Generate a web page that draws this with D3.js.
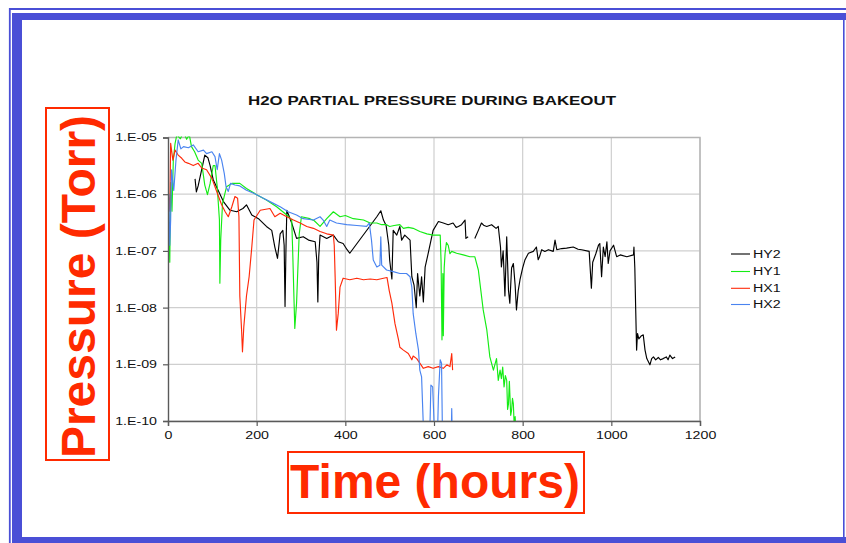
<!DOCTYPE html>
<html><head><meta charset="utf-8">
<script src="https://cdn.jsdelivr.net/npm/d3@7"></script>
<style>
html,body{margin:0;padding:0;background:#fff;}
svg{display:block;}
text{font-family:"Liberation Sans",Arial,Helvetica,sans-serif;}
</style></head>
<body>
<script>
// ---------- DATA ----------
const chartTitle = "H2O PARTIAL PRESSURE DURING BAKEOUT";
const seriesNames = ["HY2", "HY1", "HX1", "HX2"];
const xTicks = [0, 200, 400, 600, 800, 1000, 1200];
const yTicks = [1e-10, 1e-9, 1e-8, 1e-7, 1e-6, 1e-5];
const yTickLabels = ["1.E-10", "1.E-09", "1.E-08", "1.E-07", "1.E-06", "1.E-05"];

// [time (hours), pressure (Torr)]
const hy2 = [[61,1.86e-6],[64,1.1e-6],[68,1.4e-6],[75,2.5e-6],[83,4.9e-6],[90,4.4e-6],[95,3.2e-6],[102,1.8e-6],[113,1.17e-6],[125,7.4e-7],[140,5.2e-7],[155,4.9e-7],[169,5.6e-7],[177,6.5e-7],[189,4.3e-7],[204,3.7e-7],[222,2.7e-7],[234,2.3e-7],[241,1.17e-7],[247,7.4e-8],[253,2.0e-7],[259,2.3e-7],[262,1.26e-7],[264,1.05e-8],[266,1e-7],[268,5.2e-7],[279,3.1e-7],[290,1.66e-7],[305,1.78e-7],[317,1.55e-7],[332,1.45e-7],[336,6.3e-8],[338,1.26e-8],[340,7.9e-8],[343,1.9e-7],[358,1.66e-7],[373,1.9e-7],[384,1.45e-7],[395,1.35e-7],[404,1.05e-7],[410,9.1e-8],[471,4.0e-7],[480,5.1e-7],[486,3.5e-7],[492,2.8e-7],[498,1.26e-7],[500,6.9e-8],[505,3.2e-8],[508,2.3e-7],[516,1.9e-7],[523,2.7e-7],[527,1.55e-7],[534,1.9e-7],[546,1.55e-7],[550,3.5e-8],[555,2.5e-8],[560,1.0e-8],[563,4e-8],[568,1.6e-8],[572,3.5e-8],[576,1.26e-8],[580,5.2e-8],[587,9.1e-8],[598,2.3e-7],[610,3.3e-7],[621,3.1e-7],[632,2.9e-7],[643,3.1e-7],[650,2.6e-7],[655,2.7e-7],[662,2.9e-7],[670,3.5e-7],[672,1.66e-7],[677,1.78e-7],[684,null],[692,1.66e-7],[700,2.3e-7],[707,3.1e-7],[713,2.8e-7],[719,2.7e-7],[730,2.9e-7],[740,2.5e-7],[745,2.7e-7],[750,1.17e-7],[752,5.2e-8],[756,1e-7],[760,1.6e-8],[764,1.78e-7],[768,2.0e-8],[771,1.2e-8],[775,5e-8],[779,6e-8],[783,2.5e-8],[786,9.1e-9],[790,2e-8],[794,3.1e-8],[800,5e-8],[805,6.9e-8],[813,9.1e-8],[824,9.8e-8],[831,1.17e-7],[835,7e-8],[838,7.9e-8],[843,1.05e-7],[850,9.8e-8],[858,1.05e-7],[869,9.8e-8],[873,1.55e-7],[877,1.05e-7],[888,1.1e-7],[899,1.12e-7],[914,1.17e-7],[925,1.07e-7],[933,1.05e-7],[950,9.8e-8],[953,4e-8],[955,2.2e-8],[958,6.3e-8],[965,8.9e-8],[971,1.26e-7],[974,1.35e-7],[978,3.5e-8],[982,1.17e-7],[986,7.9e-8],[990,1.45e-7],[993,6e-8],[997,1e-7],[1005,1.26e-7],[1012,7.9e-8],[1020,8.5e-8],[1035,7.9e-8],[1050,8.5e-8],[1051,1.17e-7],[1053,5e-8],[1055,9.1e-9],[1057,1.78e-9],[1059,3.5e-9],[1062,2.8e-9],[1068,3.2e-9],[1072,3.3e-9],[1076,1.78e-9],[1080,1.26e-9],[1087,9.8e-10],[1091,1.26e-9],[1095,1.35e-9],[1100,1.2e-9],[1106,1.32e-9],[1111,1.2e-9],[1117,1.26e-9],[1124,1.35e-9],[1128,1.2e-9],[1132,1.45e-9],[1138,1.26e-9],[1144,1.35e-9]];

const hy1 = [[0,5e-8],[2,3.2e-7],[4,6.3e-8],[6,1.6e-6],[9,5e-7],[12,4e-6],[16,7.9e-6],[20,1.12e-5],[28,9.5e-6],[35,1.26e-5],[42,9.3e-6],[48,1.12e-5],[53,6.9e-6],[60,5.6e-6],[68,4e-6],[76,3.5e-6],[83,1.45e-6],[89,9.8e-7],[95,1.55e-6],[102,3.2e-6],[106,3.2e-6],[111,1.35e-6],[116,3.5e-7],[117,2.7e-8],[119,1.6e-7],[123,6.9e-7],[132,1.35e-6],[144,1.55e-6],[162,1.55e-6],[177,1.26e-6],[200,9.8e-7],[222,7.9e-7],[245,6e-7],[268,4.3e-7],[279,3.5e-7],[281,1.17e-7],[284,1.6e-8],[286,4.3e-9],[290,1.2e-8],[293,5e-8],[296,2.0e-7],[301,4e-7],[320,3.7e-7],[330,3.4e-7],[343,2.7e-7],[358,3.7e-7],[373,4.9e-7],[388,4e-7],[400,4.2e-7],[418,3.7e-7],[441,3.5e-7],[456,3.1e-7],[471,3.1e-7],[482,2.9e-7],[493,2.9e-7],[500,2.7e-7],[510,2.8e-7],[523,2.9e-7],[531,2.5e-7],[542,2.6e-7],[553,2.5e-7],[568,2.2e-7],[584,2.0e-7],[598,1.9e-7],[614,1.9e-7],[616,6.3e-8],[618,2.7e-9],[620,4e-8],[621,3.2e-9],[623,5e-8],[625,9.1e-8],[628,1.4e-7],[632,1.26e-7],[636,8.9e-8],[640,9.8e-8],[651,9.1e-8],[666,8.5e-8],[681,7.9e-8],[692,7.9e-8],[700,4.6e-8],[711,9.1e-9],[719,4.1e-9],[726,1.35e-9],[734,7.9e-10],[741,1.26e-9],[745,5.2e-10],[749,7.9e-10],[752,5.6e-10],[755,8.9e-10],[758,4e-10],[761,6.3e-10],[764,5.2e-10],[766,1.6e-10],[768,2e-10],[770,5e-10],[771,3.2e-10],[773,1.26e-10],[775,1.55e-10],[777,2.5e-10],[779,2e-10],[781,8e-11],[783,1.2e-10],[785,6.3e-11]];

const hx1 = [[1,1e-6],[4,5e-7],[6,7.9e-6],[11,4e-6],[16,6e-6],[23,4.9e-6],[31,4.3e-6],[38,3.7e-6],[46,3.5e-6],[57,3.2e-6],[68,3.5e-6],[76,2.9e-6],[87,2.7e-6],[99,1.9e-6],[106,1.35e-6],[114,9.1e-7],[121,6.5e-7],[129,4.9e-7],[136,4e-7],[144,6e-7],[151,9.1e-7],[157,8.5e-7],[160,4e-7],[162,1.6e-8],[166,4e-9],[168,1.66e-9],[171,4.6e-9],[177,1.6e-8],[183,3.5e-8],[189,1.17e-7],[194,3.5e-7],[208,5.2e-7],[230,5.6e-7],[241,4e-7],[253,4.6e-7],[268,4e-7],[283,3.5e-7],[298,3.1e-7],[313,2.7e-7],[328,2.5e-7],[343,2.2e-7],[358,2.0e-7],[373,1.9e-7],[375,1.26e-7],[377,3.5e-8],[380,4e-9],[384,7.9e-9],[388,2.3e-8],[395,3.3e-8],[410,3.1e-8],[426,3.3e-8],[441,3.1e-8],[456,3.2e-8],[471,3.1e-8],[486,3.3e-8],[494,3.4e-8],[499,2.0e-8],[505,1.2e-8],[512,5.2e-9],[520,2.7e-9],[523,2.0e-9],[531,1.78e-9],[542,1.55e-9],[550,1.2e-9],[553,1.4e-9],[561,1.26e-9],[568,1.05e-9],[576,8.5e-10],[587,9.1e-10],[598,8.5e-10],[610,9.1e-10],[621,8.5e-10],[629,9.8e-10],[636,9.1e-10],[640,1.55e-9],[642,7.9e-10]];

const hx2 = [[0,5.6e-8],[2,1e-6],[4,1.26e-7],[6,3.5e-7],[8,2.7e-6],[13,1.17e-6],[18,4e-6],[23,9.1e-6],[29,6.3e-6],[35,6.9e-6],[46,6.6e-6],[57,7.4e-6],[68,5.6e-6],[80,6e-6],[87,5.2e-6],[99,5.6e-6],[106,4.6e-6],[111,2.7e-6],[116,5.2e-6],[121,4e-6],[127,2.3e-6],[131,1.35e-6],[136,1.12e-6],[141,1.55e-6],[151,1.45e-6],[162,1.4e-6],[177,1.17e-6],[192,1.05e-6],[215,8.5e-7],[230,7.4e-7],[253,6e-7],[271,4.9e-7],[290,4.3e-7],[305,3.7e-7],[328,3.5e-7],[343,4e-7],[350,3.5e-7],[358,2.7e-7],[365,3.5e-7],[380,3.1e-7],[403,2.9e-7],[426,2.8e-7],[448,2.7e-7],[454,3.1e-7],[459,1.55e-7],[463,6.9e-8],[471,5.2e-8],[478,5.6e-8],[480,1.78e-7],[482,5.6e-8],[493,4.6e-8],[508,4.3e-8],[523,4e-8],[538,4e-8],[546,3.5e-8],[550,2.3e-8],[553,7.9e-9],[559,3.5e-9],[565,1.78e-9],[568,7.9e-10],[572,6e-10],[576,8e-11],[591,9e-11],[593,4.3e-10],[597,4e-10],[599,1.6e-10],[601,6.3e-11],[608,6.3e-11],[610,2.7e-10],[614,1.2e-9],[617,1.05e-9],[619,6.3e-11],[639,6.3e-11],[640,1.66e-10],[641,6.3e-11]];

const seriesData = [hy2, hy1, hx1, hx2];
const seriesColors = ["#000000", "#14ec14", "#ff2a0a", "#4a84f0"];
const yAxisTitle = "Pressure (Torr)";
const xAxisTitle = "Time (hours)";

// ---------- DRAW ----------
const W = 846, H = 543;
const svg = d3.select("body").append("svg").attr("width", W).attr("height", H);
svg.append("rect").attr("width", W).attr("height", H).attr("fill", "#fff");

// slide frame
const frameColor = "#4a4fd6";
svg.append("path").attr("d", "M9.8,543 V9 H846").attr("fill", "none").attr("stroke", frameColor).attr("stroke-width", 1.8);
svg.append("rect").attr("x", 12).attr("y", 13).attr("width", W - 12).attr("height", 7).attr("fill", frameColor);
svg.append("rect").attr("x", 12).attr("y", 13).attr("width", 10).attr("height", H - 13).attr("fill", frameColor);
svg.append("rect").attr("x", 12).attr("y", 537).attr("width", W - 12).attr("height", 6).attr("fill", frameColor);
svg.append("line").attr("x1", 843.8).attr("x2", 843.8).attr("y1", 20).attr("y2", 537).attr("stroke", frameColor).attr("stroke-width", 1.6);

const plot = {left: 168, right: 700, top: 137.5, bottom: 421};
const x = d3.scaleLinear().domain([0, 1200]).range([plot.left, plot.right]);
const y = d3.scaleLog().domain([1e-10, 1e-5]).range([plot.bottom, plot.top]);
const SX = 1.42; // horizontal stretch of the original chart image

// grid
const g = svg.append("g");
g.selectAll(".hg").data(yTicks).join("line")
  .attr("x1", plot.left).attr("x2", plot.right)
  .attr("y1", d => y(d)).attr("y2", d => y(d))
  .attr("stroke", "#cfcfcf").attr("stroke-width", 1.2);
g.selectAll(".vg").data(xTicks.slice(1)).join("line")
  .attr("x1", d => x(d)).attr("x2", d => x(d))
  .attr("y1", plot.top).attr("y2", plot.bottom)
  .attr("stroke", "#cfcfcf").attr("stroke-width", 1.2);
// plot border (top/right)
g.append("path").attr("d", `M${plot.left},${plot.top} H${plot.right} V${plot.bottom}`)
  .attr("fill", "none").attr("stroke", "#b4b4b4").attr("stroke-width", 1.4);

// clip
svg.append("clipPath").attr("id", "clip").append("rect")
  .attr("x", plot.left).attr("y", plot.top - 1)
  .attr("width", plot.right - plot.left).attr("height", plot.bottom - plot.top + 1);

const line = d3.line().defined(d => d[1] != null).x(d => x(d[0])).y(d => y(d[1]));
const lines = svg.append("g").attr("clip-path", "url(#clip)");
seriesData.forEach((s, i) => {
  lines.append("path").datum(s).attr("d", line)
    .attr("fill", "none").attr("stroke", seriesColors[i]).attr("stroke-width", 1.15)
    .attr("stroke-linejoin", "round");
});

// axes
const yAxis = d3.axisLeft(y).tickValues(yTicks).tickFormat((d, i) => yTickLabels[i]).tickSize(5).tickPadding(4);
const xAxis = d3.axisBottom(x).tickValues(xTicks).tickFormat(d3.format("d")).tickSize(5).tickPadding(4);
const ya = svg.append("g").attr("transform", `translate(${plot.left},0)`).call(yAxis);
const xa = svg.append("g").attr("transform", `translate(0,${plot.bottom})`).call(xAxis);
[ya, xa].forEach(a => {
  a.select(".domain").attr("stroke", "#5a5a5a").attr("stroke-width", 1.4);
  a.selectAll(".tick line").attr("stroke", "#5a5a5a").attr("stroke-width", 1.2);
  a.selectAll("text").attr("font-size", 10).attr("fill", "#111")
    .attr("font-family", '"Liberation Sans",Arial,sans-serif');
});
// stretch tick labels horizontally like the original
ya.selectAll(".tick text").each(function() {
  const t = d3.select(this);
  const xx = +t.attr("x");
  t.attr("x", null).attr("dy", "0.34em").attr("transform", `translate(${xx - 2},0) scale(${SX},1)`);
});
xa.selectAll(".tick text").each(function() {
  const t = d3.select(this);
  const yy = +t.attr("y");
  t.attr("y", null).attr("dy", "0.71em").attr("transform", `translate(0,${yy + 2}) scale(${SX},1)`);
});

// title
svg.append("text").attr("x", 432).attr("y", 105)
  .attr("text-anchor", "middle").attr("font-size", 12).attr("font-weight", "bold").attr("fill", "#111")
  .attr("textLength", 368).attr("lengthAdjust", "spacingAndGlyphs")
  .text(chartTitle);

// legend
const leg = svg.append("g");
const legY = [254, 271.5, 288.3, 304.5];
seriesNames.forEach((n, i) => {
  leg.append("line").attr("x1", 731).attr("x2", 750).attr("y1", legY[i]).attr("y2", legY[i])
    .attr("stroke", seriesColors[i]).attr("stroke-width", 1.1);
  leg.append("text").attr("transform", `translate(753,${legY[i] + 3.6}) scale(${SX},1)`)
    .attr("font-size", 10).attr("fill", "#111").text(n);
});

// red axis titles
const red = "#ff2a00";
svg.append("rect").attr("x", 46).attr("y", 108).attr("width", 63).attr("height", 352)
  .attr("fill", "none").attr("stroke", red).attr("stroke-width", 2);
svg.append("text").attr("transform", "translate(95,286.5) rotate(-90)")
  .attr("text-anchor", "middle").attr("font-size", 48).attr("font-weight", "bold")
  .attr("fill", red).text(yAxisTitle);
svg.append("rect").attr("x", 288).attr("y", 452).attr("width", 296).attr("height", 61)
  .attr("fill", "none").attr("stroke", red).attr("stroke-width", 2);
svg.append("text").attr("x", 435).attr("y", 498)
  .attr("text-anchor", "middle").attr("font-size", 48).attr("font-weight", "bold")
  .attr("fill", red).text(xAxisTitle);
</script>
</body></html>
